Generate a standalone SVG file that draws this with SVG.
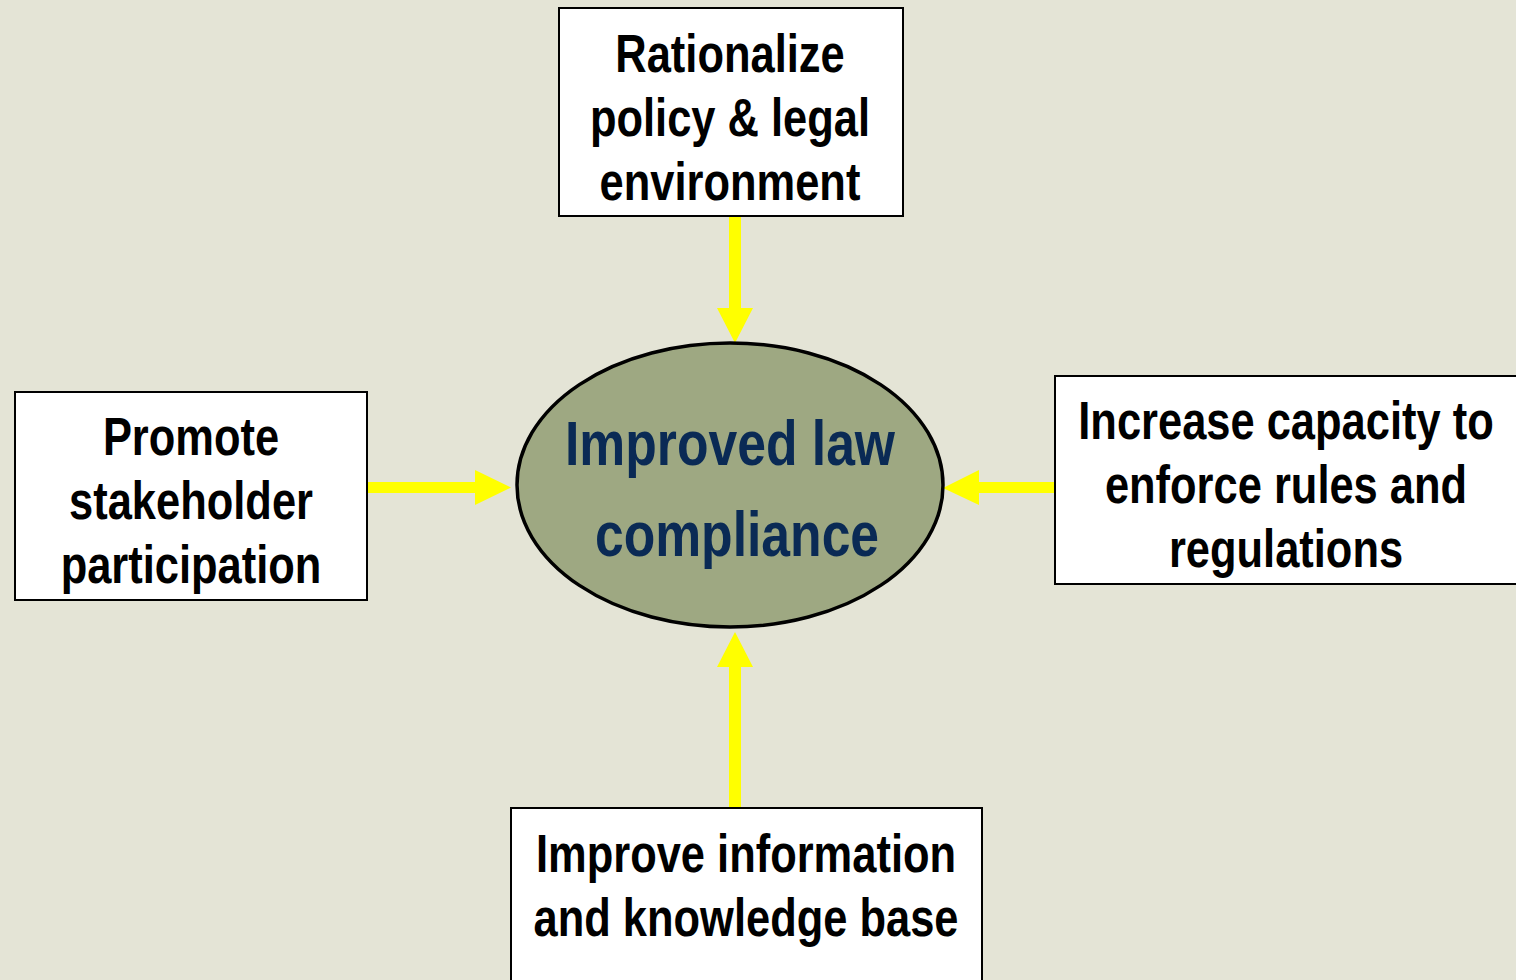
<svg xmlns="http://www.w3.org/2000/svg" width="1516" height="980" viewBox="0 0 1516 980">
<style>
.box{fill:#ffffff;stroke:#000000;stroke-width:2}
.t{font-family:"Liberation Sans",Arial,sans-serif;font-weight:bold;font-size:53px;fill:#000000;text-anchor:middle}
.c{font-family:"Liberation Sans",Arial,sans-serif;font-weight:bold;font-size:63px;fill:#0a2a55;text-anchor:middle}
.arr{fill:#ffff00}
</style>
<rect width="1516" height="980" fill="#e4e4d6"/>
<g id="connectors">
<polygon class="arr" points="729,216 741,216 741,308 753,308 735,343 717,308 729,308"/>
<polygon class="arr" points="367,482 475,482 475,470 511,487.5 475,505 475,493 367,493"/>
<polygon class="arr" points="1055,482 979,482 979,470 943,488 979,505 979,493 1055,493"/>
<polygon class="arr" points="729,808 741,808 741,667 753,667 735,632 717,667 729,667"/>
</g>
<g id="center">
<ellipse cx="730" cy="485" rx="213" ry="142" fill="#9ea882" stroke="#000" stroke-width="3.5"/>
<text class="c" transform="translate(730 465) scale(0.82 1)">Improved law</text>
<text class="c" transform="translate(737 556) scale(0.82 1)">compliance</text>
</g>
<g id="top">
<rect class="box" x="559" y="8" width="344" height="208"/>
<text class="t" transform="translate(730 72) scale(0.82 1)">Rationalize</text>
<text class="t" transform="translate(730 136) scale(0.82 1)">policy &amp; legal</text>
<text class="t" transform="translate(730 200) scale(0.82 1)">environment</text>
</g>
<g id="left">
<rect class="box" x="15" y="392" width="352" height="208"/>
<text class="t" transform="translate(191 455) scale(0.82 1)">Promote</text>
<text class="t" transform="translate(191 519) scale(0.82 1)">stakeholder</text>
<text class="t" transform="translate(191 583) scale(0.82 1)">participation</text>
</g>
<g id="right">
<rect class="box" x="1055" y="376" width="465" height="208"/>
<text class="t" transform="translate(1286 439) scale(0.82 1)">Increase capacity to</text>
<text class="t" transform="translate(1286 503) scale(0.82 1)">enforce rules and</text>
<text class="t" transform="translate(1286 567) scale(0.82 1)">regulations</text>
</g>
<g id="bottom">
<rect class="box" x="511" y="808" width="471" height="180"/>
<text class="t" transform="translate(746 872) scale(0.82 1)">Improve information</text>
<text class="t" transform="translate(746 936) scale(0.82 1)">and knowledge base</text>
</g>
</svg>
